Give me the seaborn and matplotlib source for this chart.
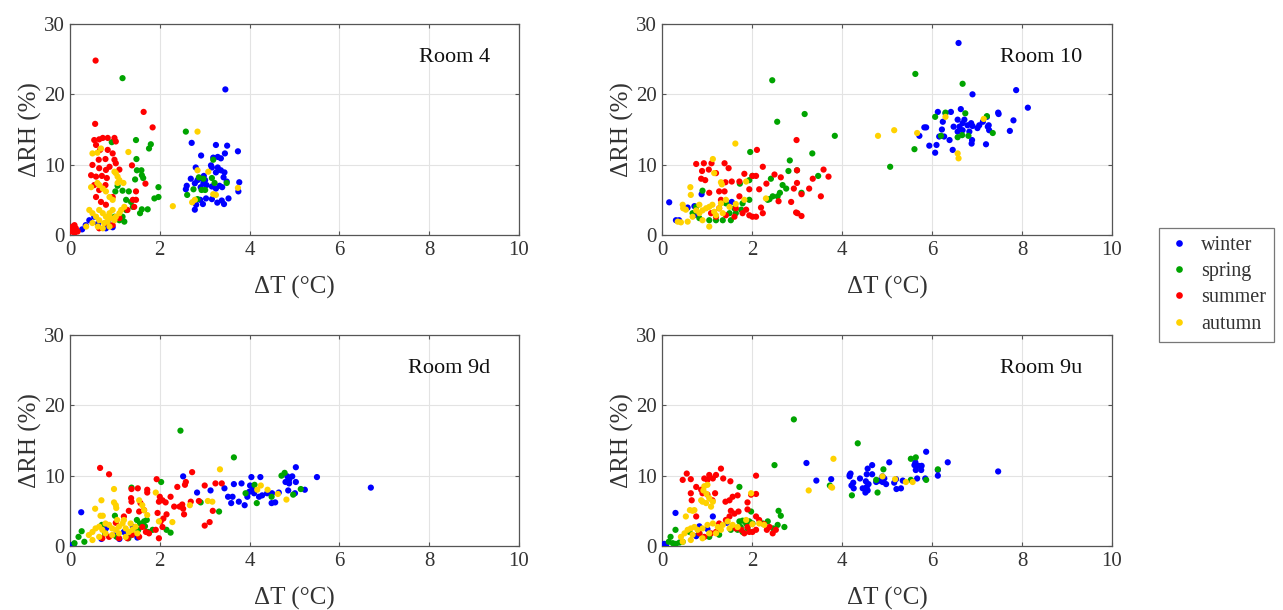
import numpy as np
import pandas as pd
import matplotlib
matplotlib.use("Agg")
import matplotlib.pyplot as plt
import seaborn as sns
from matplotlib.lines import Line2D

seasons = ["winter", "spring", "summer", "autumn"]
season_colors = ["#0000ff", "#00a400", "#ff0000", "#ffd200"]
rooms = ["Room 4", "Room 10", "Room 9d", "Room 9u"]

# ---------------- Room 4 ----------------
r4_winter_x = [3.46, 2.71, 3.25, 3.50, 3.74, 2.92, 3.19, 3.29, 3.36, 3.45, 2.80, 3.14, 3.16, 3.29, 3.36, 3.44, 3.25,
               2.69, 2.60, 2.58, 2.78, 2.84, 2.91, 2.98, 3.01, 2.97, 2.91, 3.04, 3.16, 3.25, 3.33, 3.39, 3.42, 3.49,
               3.77, 3.75, 2.90, 2.96, 2.81, 2.78, 3.03, 3.16, 3.28, 3.38, 3.43, 3.53,
               0.27, 0.43, 0.54, 0.80, 0.95, 0.62, 0.85, 0.35]
r4_winter_y = [20.7, 13.1, 12.8, 12.7, 11.9, 11.3, 11.0, 11.1, 10.9, 11.6, 9.6, 9.9, 9.6, 9.6, 9.2, 8.9, 8.9,
               8.0, 7.0, 6.5, 7.35, 7.8, 8.06, 8.4, 7.8, 7.35, 6.8, 7.1, 6.9, 6.6, 7.0, 6.8, 8.2, 7.6,
               7.5, 6.2, 5.0, 4.4, 4.3, 3.6, 5.2, 5.1, 4.6, 4.9, 4.4, 5.2,
               0.8, 2.1, 2.6, 0.95, 1.1, 1.6, 1.9, 1.4]
r4_spring_x = [1.17, 0.93, 1.47, 1.80, 1.76, 1.48, 1.49, 1.59, 1.60, 1.63, 1.45, 1.97, 1.88, 1.97, 1.31, 1.17, 1.01,
               1.06, 1.25, 1.36, 1.73, 1.60, 1.56, 1.40, 1.25, 1.17, 1.10, 0.99, 1.21,
               2.58, 3.19, 2.87, 2.97, 3.16, 3.22, 3.49, 2.75, 2.93, 3.01, 2.61, 2.84]
r4_spring_y = [22.3, 13.2, 13.5, 12.9, 12.3, 10.8, 9.2, 9.2, 8.5, 8.1, 7.9, 6.8, 5.2, 5.4, 6.2, 6.3, 6.2,
               7.0, 5.0, 4.7, 3.65, 3.65, 3.1, 4.0, 3.55, 2.6, 2.1, 2.6, 1.9,
               14.7, 10.7, 8.2, 8.0, 8.1, 7.4, 7.4, 6.5, 6.4, 6.4, 5.7, 5.1]
r4_summer_x = [0.57, 1.64, 1.84, 0.56, 0.54, 0.65, 0.73, 0.84, 0.99, 1.02, 0.58, 0.67, 0.84, 0.95, 0.99, 0.79, 0.64,
               0.50, 0.65, 0.80, 0.88, 0.47, 0.58, 0.71, 0.82, 1.02, 1.10, 0.54, 0.65, 0.79, 0.58, 0.69, 0.95,
               0.80, 1.40, 1.47, 1.43, 1.68, 1.38, 1.47, 1.28, 1.10, 0.95, 0.80, 0.65, 0.10, 0.06, 0.13, 0.02,
               0.17, 0.06, 0.10]
r4_summer_y = [24.8, 17.5, 15.3, 15.8, 13.5, 13.6, 13.8, 13.8, 13.8, 13.3, 12.8, 12.1, 12.1, 11.6, 10.7, 10.8, 10.7,
               9.96, 9.5, 9.25, 9.7, 8.5, 8.3, 8.4, 8.1, 10.2, 9.3, 7.1, 6.4, 7.1, 5.4, 4.7, 5.4,
               4.3, 5.0, 5.0, 4.0, 7.3, 9.9, 6.2, 3.56, 2.4, 1.4, 1.7, 0.95, 1.4, 0.7, 0.95, 0.5,
               0.5, 1.2, 0.3]
r4_autumn_x = [1.30, 0.50, 0.61, 0.69, 1.02, 0.99, 1.06, 1.10, 1.06, 0.61, 0.65, 0.73, 0.47, 0.80, 0.88, 0.95, 1.19,
               2.29, 2.84, 2.84, 3.08, 3.74, 2.72, 2.78, 3.19, 3.25,
               0.43, 0.50, 0.58, 0.65, 0.73, 0.80, 0.88, 0.95, 0.65, 0.76, 0.84, 0.91, 1.02, 1.10, 0.50, 0.62,
               0.36, 0.73, 0.88, 1.21, 1.14, 0.99]
r4_autumn_y = [11.8, 11.6, 11.7, 12.3, 8.8, 9.0, 8.3, 7.8, 7.4, 7.4, 7.1, 6.6, 6.8, 6.2, 5.4, 5.0, 7.4,
               4.1, 14.7, 9.2, 9.0, 6.7, 4.65, 5.0, 5.8, 5.7,
               3.56, 3.1, 2.6, 3.56, 3.1, 2.6, 3.1, 3.56, 2.1, 1.7, 1.9, 2.4, 2.6, 3.1, 1.7, 1.2,
               1.2, 0.95, 1.2, 4.0, 3.56, 2.1]

# ---------------- Room 10 ----------------
r10_winter_x = [6.59, 7.87, 6.90, 8.13, 7.81, 7.73, 7.47, 7.48, 7.22, 6.42, 6.64, 6.13, 6.30, 6.24, 6.22, 5.83, 5.87,
                5.72, 5.94, 6.07, 6.10, 6.16, 6.27, 6.39, 6.46, 6.48, 6.57, 6.61, 6.68, 6.72, 6.79, 6.87, 6.90,
                7.01, 7.05, 7.13, 7.24, 7.27, 7.20, 6.88, 6.89, 6.68, 6.83, 6.57, 7.26,
                0.16, 0.57, 0.72, 0.88, 0.31, 0.38, 0.74, 1.55]
r10_winter_y = [27.3, 20.6, 20.0, 18.1, 16.3, 14.8, 17.4, 17.2, 16.8, 17.5, 17.9, 17.5, 17.3, 16.1, 15.0, 15.3, 15.3,
                14.1, 12.7, 11.7, 12.8, 14.0, 14.0, 13.5, 12.1, 15.4, 16.4, 15.4, 15.9, 16.4, 15.6, 15.9, 15.5,
                15.2, 15.6, 16.1, 15.4, 14.9, 12.9, 13.0, 13.5, 14.9, 14.7, 14.7, 15.6,
                4.65, 3.9, 4.1, 5.8, 2.1, 2.1, 2.85, 4.7]
r10_spring_x = [2.45, 5.63, 6.68, 2.56, 3.17, 3.84, 1.96, 3.34, 2.84, 5.61, 5.07, 6.07, 6.30, 6.74, 7.22, 7.35, 6.20,
                6.57, 6.67, 6.81, 2.81, 3.00, 3.47, 2.68, 2.76, 2.62, 2.57, 2.46, 2.39, 2.35, 3.10, 2.42, 2.01,
                1.94, 1.73, 0.90, 1.94, 1.79, 1.61, 1.50, 1.35, 1.20, 1.05, 0.83, 0.68, 0.76, 1.64, 1.76, 1.53,
                1.42]
r10_spring_y = [22.0, 22.9, 21.5, 16.1, 17.2, 14.1, 11.8, 11.6, 10.6, 12.2, 9.7, 16.8, 17.4, 17.3, 16.9, 14.5, 14.1,
                13.9, 14.2, 14.1, 9.1, 9.2, 8.4, 7.1, 6.6, 6.0, 5.5, 5.5, 5.1, 5.0, 6.0, 8.0, 8.4,
                7.8, 7.3, 6.3, 5.0, 4.5, 3.8, 3.1, 2.1, 2.1, 2.1, 2.4, 3.1, 4.0, 3.1, 3.6, 2.1,
                4.5]
r10_summer_x = [2.99, 2.11, 0.76, 0.93, 1.10, 1.39, 0.89, 1.04, 1.48, 0.87, 0.96, 1.20, 1.05, 1.27, 1.41, 1.55, 1.72,
                1.83, 2.01, 2.09, 2.24, 2.50, 2.64, 3.00, 3.59, 3.70, 3.35, 2.32, 3.00, 2.93, 3.27, 3.10, 3.53,
                2.59, 2.87, 2.98, 3.01, 3.10, 1.94, 2.16, 2.20, 1.72, 1.64, 1.79, 1.94, 2.09, 2.24, 1.61, 1.42,
                1.27, 1.20, 1.09, 1.87, 2.01, 1.31, 1.39]
r10_summer_y = [13.5, 12.1, 10.1, 10.2, 10.2, 10.2, 9.1, 9.3, 9.5, 8.0, 7.8, 8.8, 6.0, 6.2, 7.5, 7.6, 7.6,
                8.7, 8.4, 8.4, 9.7, 8.6, 8.2, 9.2, 9.3, 8.3, 8.0, 7.3, 7.4, 6.6, 6.6, 5.8, 5.5,
                4.8, 4.7, 3.2, 3.1, 2.7, 6.5, 6.5, 3.9, 5.5, 3.8, 3.1, 2.8, 2.6, 3.1, 2.6, 2.8,
                3.8, 2.6, 3.1, 3.6, 2.6, 5.0, 6.2]
r10_autumn_x = [1.63, 1.13, 4.80, 5.16, 5.67, 6.30, 7.15, 6.57, 6.59, 1.31, 1.33, 0.63, 1.16, 1.87, 2.31, 0.64, 0.46,
                0.47, 0.53, 0.35, 0.42, 0.57, 0.68, 0.83, 0.90, 0.98, 1.05, 1.12, 1.16, 1.27, 1.31, 1.42, 1.50,
                1.05, 0.90, 1.20, 1.35, 0.83, 0.76, 1.83, 1.64]
r10_autumn_y = [13.0, 10.8, 14.1, 14.9, 14.5, 16.8, 16.5, 11.6, 10.9, 7.5, 7.2, 6.8, 8.8, 7.6, 5.2, 5.7, 4.3,
                3.8, 3.6, 1.9, 1.8, 1.9, 2.6, 3.1, 3.5, 3.8, 4.0, 4.3, 3.3, 3.8, 4.5, 5.0, 4.0,
                1.2, 2.1, 2.8, 3.1, 4.3, 3.5, 5.0, 4.4]

# ---------------- Room 9d ----------------
r9d_winter_x = [6.70, 5.50, 5.03, 5.23, 5.03, 4.95, 4.88, 4.80, 4.84, 4.88, 4.86, 5.01, 4.65, 4.50, 4.57, 4.49, 4.24,
                4.04, 3.82, 4.01, 3.65, 3.44, 3.52, 3.62, 3.59, 3.76, 3.89, 3.99, 4.10, 4.21, 4.28, 4.39, 3.95,
                4.06, 2.83, 3.13, 2.52, 0.25, 0.05, 0.09, 0.70, 1.00, 1.20, 0.80, 1.50, 1.10, 1.40]
r9d_winter_y = [8.3, 9.8, 11.2, 8.0, 9.1, 9.9, 8.9, 9.1, 9.9, 9.4, 7.9, 7.5, 7.6, 7.5, 6.2, 6.1, 9.8,
                9.8, 8.9, 8.6, 8.8, 8.2, 7.0, 7.0, 6.1, 6.3, 5.8, 7.7, 7.5, 7.0, 7.2, 7.5, 7.0,
                8.0, 7.6, 7.9, 9.9, 4.8, 0.14, 0.3, 1.0, 1.5, 2.0, 2.5, 1.2, 1.0, 2.7]
r9d_spring_x = [2.46, 3.65, 4.71, 4.78, 5.14, 4.97, 4.49, 4.16, 4.11, 3.91, 3.32, 2.91, 2.03, 2.24, 2.15, 1.37, 1.65,
                1.71, 1.67, 1.56, 1.49, 1.52, 1.00, 0.71, 0.26, 0.19, 0.32, 0.10, 0.78, 1.04, 1.30, 1.37, 1.74,
                1.84]
r9d_spring_y = [16.4, 12.6, 10.0, 10.4, 8.1, 7.3, 7.0, 6.1, 8.7, 7.5, 4.9, 6.2, 9.1, 1.9, 2.3, 8.3, 3.5,
                3.7, 2.8, 3.2, 3.7, 2.3, 4.3, 3.0, 2.1, 1.3, 0.6, 0.4, 1.8, 1.3, 1.1, 1.6, 2.0,
                2.3]
r9d_summer_x = [0.67, 0.87, 2.72, 1.93, 2.39, 2.58, 2.56, 3.00, 3.24, 3.38, 1.37, 1.51, 1.72, 1.72, 1.36, 1.37, 1.57,
                2.00, 2.06, 2.13, 1.98, 2.24, 2.32, 2.50, 2.44, 2.52, 2.54, 2.69, 2.87, 3.18, 3.00, 3.11, 1.95,
                2.15, 2.08, 2.02, 2.06, 1.91, 1.98, 1.65, 1.54, 1.31, 1.20, 1.02, 1.61, 1.69, 1.54, 1.39, 1.28,
                1.09, 0.87, 0.72, 1.76]
r9d_summer_y = [11.1, 10.2, 10.5, 9.5, 8.4, 9.1, 8.7, 8.6, 8.9, 8.9, 8.1, 8.2, 8.0, 7.6, 6.8, 6.3, 6.1,
                7.0, 6.5, 6.2, 6.3, 7.0, 5.6, 5.9, 5.6, 5.3, 4.5, 6.3, 6.4, 5.0, 2.9, 3.4, 4.7,
                4.5, 3.9, 3.5, 2.7, 2.3, 1.1, 5.1, 4.9, 5.0, 4.2, 3.3, 2.7, 2.0, 1.3, 1.6, 1.1,
                1.1, 1.3, 1.1, 1.8]
r9d_autumn_x = [3.34, 3.17, 3.07, 4.82, 4.63, 4.25, 4.40, 4.17, 1.91, 2.67, 2.28, 1.98, 0.98, 0.70, 0.98, 1.02, 1.03,
                0.56, 0.68, 0.73, 1.61, 1.54, 1.65, 1.72, 0.42, 0.50, 0.57, 0.65, 0.72, 0.79, 0.87, 0.94, 1.02,
                1.09, 1.17, 1.24, 1.31, 1.39, 1.46, 0.79, 0.94, 1.09, 1.24, 0.65, 0.50, 1.05, 1.20, 1.35, 1.50]
r9d_autumn_y = [10.9, 6.3, 6.4, 6.6, 7.4, 8.6, 8.0, 8.0, 7.6, 5.8, 3.4, 3.5, 8.1, 6.5, 6.2, 5.8, 5.4,
                5.3, 4.3, 4.3, 5.8, 6.5, 5.1, 4.4, 1.56, 2.0, 2.5, 2.75, 2.3, 3.2, 3.0, 2.5, 2.3,
                2.75, 3.2, 2.5, 2.0, 2.3, 2.75, 1.8, 1.56, 1.8, 1.3, 1.3, 0.85, 3.7, 3.7, 3.2, 1.8]

# ---------------- Room 9u ----------------
r9u_winter_x = [7.47, 6.35, 6.13, 6.13, 5.87, 5.63, 5.70, 5.77, 5.76, 5.64, 5.61, 5.85, 5.67, 5.05, 4.67, 4.57, 4.67,
                4.55, 4.19, 4.17, 4.17, 4.25, 4.21, 4.26, 4.40, 4.53, 4.59, 4.55, 4.46, 4.52, 4.57, 4.76, 4.83,
                4.90, 4.98, 4.94, 5.16, 5.21, 5.31, 5.35, 4.90, 5.20, 3.21, 3.43, 3.76, 0.30, 1.13, 0.05, 0.09,
                0.76, 1.01, 1.44, 0.83]
r9u_winter_y = [10.6, 11.9, 10.0, 10.8, 13.4, 11.9, 11.4, 11.4, 10.8, 10.8, 11.5, 9.6, 9.6, 11.9, 11.5, 11.0, 10.2,
                10.2, 10.3, 10.1, 9.9, 9.0, 8.6, 8.2, 9.6, 9.2, 8.8, 8.4, 8.2, 7.6, 7.9, 9.1, 9.3,
                9.1, 8.8, 9.6, 9.0, 8.1, 8.2, 9.3, 9.9, 9.5, 11.8, 9.3, 9.5, 4.7, 4.2, 0.3, 0.05,
                1.4, 2.4, 3.3, 2.8]
r9u_spring_x = [2.93, 4.35, 2.50, 5.53, 5.64, 6.13, 5.87, 5.53, 4.92, 4.76, 4.79, 4.22, 3.73, 1.72, 1.98, 2.59, 2.64,
                2.72, 2.57, 2.47, 2.35, 2.24, 1.72, 1.79, 1.87, 1.94, 2.01, 1.75, 1.90, 1.68, 1.53, 1.79, 0.30,
                0.19, 0.15, 0.24, 0.31, 0.39, 0.46, 1.05, 1.27, 0.83, 0.61]
r9u_spring_y = [18.0, 14.6, 11.5, 12.4, 12.6, 10.9, 9.4, 9.4, 10.9, 9.4, 7.6, 7.2, 8.6, 8.4, 4.9, 5.0, 4.3,
                2.7, 3.0, 2.5, 3.5, 3.2, 3.5, 3.6, 3.2, 3.5, 3.2, 2.7, 2.5, 2.3, 2.3, 2.0, 2.3,
                1.3, 0.6, 0.4, 0.3, 0.5, 0.6, 1.3, 1.6, 1.8, 2.0]
r9u_summer_x = [0.55, 0.46, 0.64, 0.94, 1.05, 1.20, 1.31, 1.36, 1.52, 1.13, 1.01, 2.09, 0.76, 0.87, 1.01, 0.90, 0.64,
                0.66, 1.18, 1.12, 1.41, 1.50, 1.57, 1.68, 1.90, 1.98, 2.09, 1.53, 1.61, 1.70, 1.90, 1.50, 1.42,
                1.27, 2.09, 2.16, 2.27, 2.39, 2.46, 2.33, 2.53, 0.76, 1.90, 1.94, 1.83, 1.76, 1.64, 2.09, 2.01,
                0.83, 0.94, 1.09, 1.20]
r9u_summer_y = [10.3, 9.4, 9.5, 9.6, 10.1, 10.1, 11.0, 9.6, 9.2, 9.6, 9.4, 10.0, 8.4, 8.0, 7.3, 7.5, 7.5,
                6.5, 7.5, 6.5, 6.3, 6.5, 7.0, 7.2, 6.2, 7.3, 7.4, 5.0, 4.6, 4.9, 5.2, 4.2, 3.7,
                3.2, 4.2, 3.7, 3.1, 2.7, 1.8, 2.3, 2.3, 4.2, 2.7, 2.0, 1.8, 2.3, 2.5, 2.3, 2.0,
                1.8, 1.3, 1.8, 2.0]
r9u_autumn_x = [3.81, 3.26, 3.76, 3.78, 5.18, 4.90, 5.42, 5.57, 1.98, 0.92, 0.99, 1.05, 0.90, 0.98, 1.13, 1.09, 0.87,
                0.62, 0.68, 0.53, 0.72, 1.01, 0.94, 0.42, 0.50, 0.57, 0.64, 0.72, 0.79, 0.90, 1.01, 1.13, 1.24,
                1.35, 1.46, 1.57, 1.68, 1.87, 2.01, 2.16, 2.27, 1.05, 1.20, 1.31, 0.64, 0.90, 1.50, 0.46, 0.68]
r9u_autumn_y = [12.4, 7.9, 8.4, 8.3, 9.5, 9.9, 9.1, 9.1, 7.5, 7.9, 7.4, 6.8, 6.3, 6.1, 6.3, 5.6, 6.5,
                5.1, 5.0, 4.2, 5.1, 8.7, 8.5, 1.3, 1.8, 2.3, 2.5, 2.7, 2.3, 2.5, 3.0, 3.2, 2.7,
                3.0, 3.5, 3.0, 2.7, 3.7, 3.1, 3.2, 3.0, 1.8, 1.8, 2.3, 0.85, 1.1, 2.5, 0.6, 1.6]

room_data = {
    "Room 4": [(r4_winter_x, r4_winter_y), (r4_spring_x, r4_spring_y), (r4_summer_x, r4_summer_y), (r4_autumn_x, r4_autumn_y)],
    "Room 10": [(r10_winter_x, r10_winter_y), (r10_spring_x, r10_spring_y), (r10_summer_x, r10_summer_y), (r10_autumn_x, r10_autumn_y)],
    "Room 9d": [(r9d_winter_x, r9d_winter_y), (r9d_spring_x, r9d_spring_y), (r9d_summer_x, r9d_summer_y), (r9d_autumn_x, r9d_autumn_y)],
    "Room 9u": [(r9u_winter_x, r9u_winter_y), (r9u_spring_x, r9u_spring_y), (r9u_summer_x, r9u_summer_y), (r9u_autumn_x, r9u_autumn_y)],
}

x_ticks = [0, 2, 4, 6, 8, 10]
y_ticks = [0, 10, 20, 30]

sns.set_theme(style="white")
plt.rcParams["font.family"] = ["Liberation Serif", "DejaVu Serif"]

fig = plt.figure(figsize=(12.83, 6.10), dpi=100)
W, H = 1283, 610
boxes = [(70, 24, 519, 235), (662, 24, 1112, 235), (70, 335, 519, 546), (662, 335, 1112, 546)]
palette = dict(zip(seasons, season_colors))

for room, (l, t, r, b) in zip(rooms, boxes):
    ax = fig.add_axes([l / W, 1 - b / H, (r - l) / W, (b - t) / H])
    frames = []
    for season, (xs, ys) in zip(seasons, room_data[room]):
        frames.append(pd.DataFrame({"dT": xs, "dRH": ys, "season": season}))
    df = pd.concat(frames, ignore_index=True)
    sns.scatterplot(data=df, x="dT", y="dRH", hue="season", hue_order=seasons, palette=palette,
                    s=20, linewidth=0, alpha=1.0, legend=False, ax=ax, zorder=3)
    ax.set_xlim(0, 10)
    ax.set_ylim(0, 30)
    ax.set_xticks(x_ticks)
    ax.set_yticks(y_ticks)
    ax.grid(True, color="#e3e3e3", linewidth=0.8)
    ax.set_axisbelow(True)
    for sp in ax.spines.values():
        sp.set_color("#555555")
        sp.set_linewidth(0.9)
    ax.tick_params(axis="both", direction="in", length=3, width=0.8, color="#555555",
                   labelsize=15, labelcolor="#333333", pad=4, top=True, right=True,
                   labeltop=False, labelright=False, bottom=True, left=True)
    ax.set_xlabel("ΔT (°C)", fontsize=18, color="#333333", labelpad=12)
    ax.set_ylabel("ΔRH (%)", fontsize=18, color="#333333", labelpad=1)
    ax.text(0.935, 0.84, room, transform=ax.transAxes, ha="right", va="center",
            fontsize=16, color="#111111")

handles = [Line2D([0], [0], marker="o", linestyle="none", markersize=4.8,
                  markerfacecolor=c, markeredgewidth=0) for c in season_colors]
leg = fig.legend(handles, seasons, loc="upper left", bbox_to_anchor=(1159 / W, 1 - 228 / H),
                 frameon=True, fancybox=False, fontsize=14.5, handletextpad=0.5,
                 borderpad=0.4, labelspacing=0.35, handlelength=1.2, borderaxespad=0)
leg.get_frame().set_edgecolor("#555555")
leg.get_frame().set_linewidth(0.9)
for txt in leg.get_texts():
    txt.set_color("#333333")

fig.savefig("out.png", dpi=100, facecolor="white")
